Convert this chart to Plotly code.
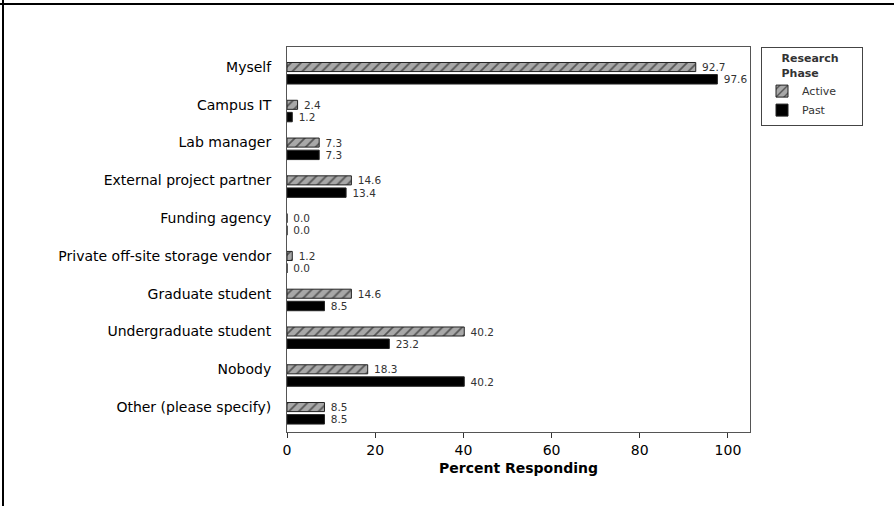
import plotly.graph_objects as go

categories = ["Myself", "Campus IT", "Lab manager", "External project partner",
              "Funding agency", "Private off-site storage vendor", "Graduate student",
              "Undergraduate student", "Nobody", "Other (please specify)"]
active = [92.7, 2.4, 7.3, 14.6, 0.0, 1.2, 14.6, 40.2, 18.3, 8.5]
past = [97.6, 1.2, 7.3, 13.4, 0.0, 0.0, 8.5, 23.2, 40.2, 8.5]
x_ticks = [0, 20, 40, 60, 80, 100]

FONT = "DejaVu Sans"
L, R, T, B = 287, 144, 47, 74
PW, PH = 894 - L - R, 506 - T - B
SP = "&nbsp;"

fig = go.Figure()
fig.add_trace(go.Bar(
    y=categories, x=active, orientation="h", name="Active",
    width=0.24, offset=-0.12,
    marker=dict(color="#a0a0a0", line=dict(color="#222", width=1),
                pattern=dict(shape="/", fgcolor="black", bgcolor="#a8a8a8", size=7, solidity=0.25)),
    text=[f"{SP}{v:.1f}" for v in active], textposition="outside", cliponaxis=False,
    constraintext="none",
    textfont=dict(size=10.5, color="#333", family=FONT),
))
fig.add_trace(go.Bar(
    y=categories, x=past, orientation="h", name="Past",
    width=0.25, offset=0.2,
    marker=dict(color="black", line=dict(color="#222", width=1)),
    text=[f"{SP}{v:.1f}" for v in past], textposition="outside", cliponaxis=False,
    constraintext="none",
    textfont=dict(size=10.5, color="#333", family=FONT),
))

fig.update_layout(
    width=894, height=506,
    margin=dict(l=L, r=R, t=T, b=B),
    paper_bgcolor="white", plot_bgcolor="white",
    font=dict(family=FONT, size=14, color="black"),
    barmode="overlay",
    showlegend=True,
    legend=dict(
        x=(761 - L) / PW, y=1, xanchor="left", yanchor="top",
        bordercolor="#444", borderwidth=1, bgcolor="white",
        title=dict(text=f"{SP*5}<b>Research</b>{SP*6}<br>{SP*5}<b>Phase</b>",
                   font=dict(size=11, family=FONT)),
        font=dict(size=11, family=FONT, color="#333"),
        traceorder="normal", itemwidth=30, tracegroupgap=0,
    ),
    xaxis=dict(
        range=[0, 105], tickvals=x_ticks, ticks="outside", ticklen=5, tickcolor="#333",
        showgrid=False, zeroline=False, showline=True, linecolor="#555", linewidth=1, mirror=True,
        title=dict(text="<b>Percent Responding</b>", font=dict(size=14), standoff=6),
        tickfont=dict(size=14),
    ),
    yaxis=dict(
        range=[9.66, -0.53], showgrid=False, zeroline=False,
        showline=True, linecolor="#555", linewidth=1, mirror=True,
        ticks="", tickfont=dict(size=14), ticklabelstandoff=12,
    ),
    shapes=[
        dict(type="line", xref="paper", yref="paper",
             x0=-L / PW, x1=(894 - L) / PW, y0=(506 - B - 4) / PH, y1=(506 - B - 4) / PH,
             line=dict(color="black", width=2)),
        dict(type="line", xref="paper", yref="paper",
             x0=(3 - L) / PW, x1=(3 - L) / PW, y0=-B / PH, y1=(506 - B) / PH,
             line=dict(color="black", width=2)),
    ],
)

fig.write_html("out.html", config={"displayModeBar": False},
               post_script="document.body.style.margin='0';document.body.style.overflow='hidden';")
